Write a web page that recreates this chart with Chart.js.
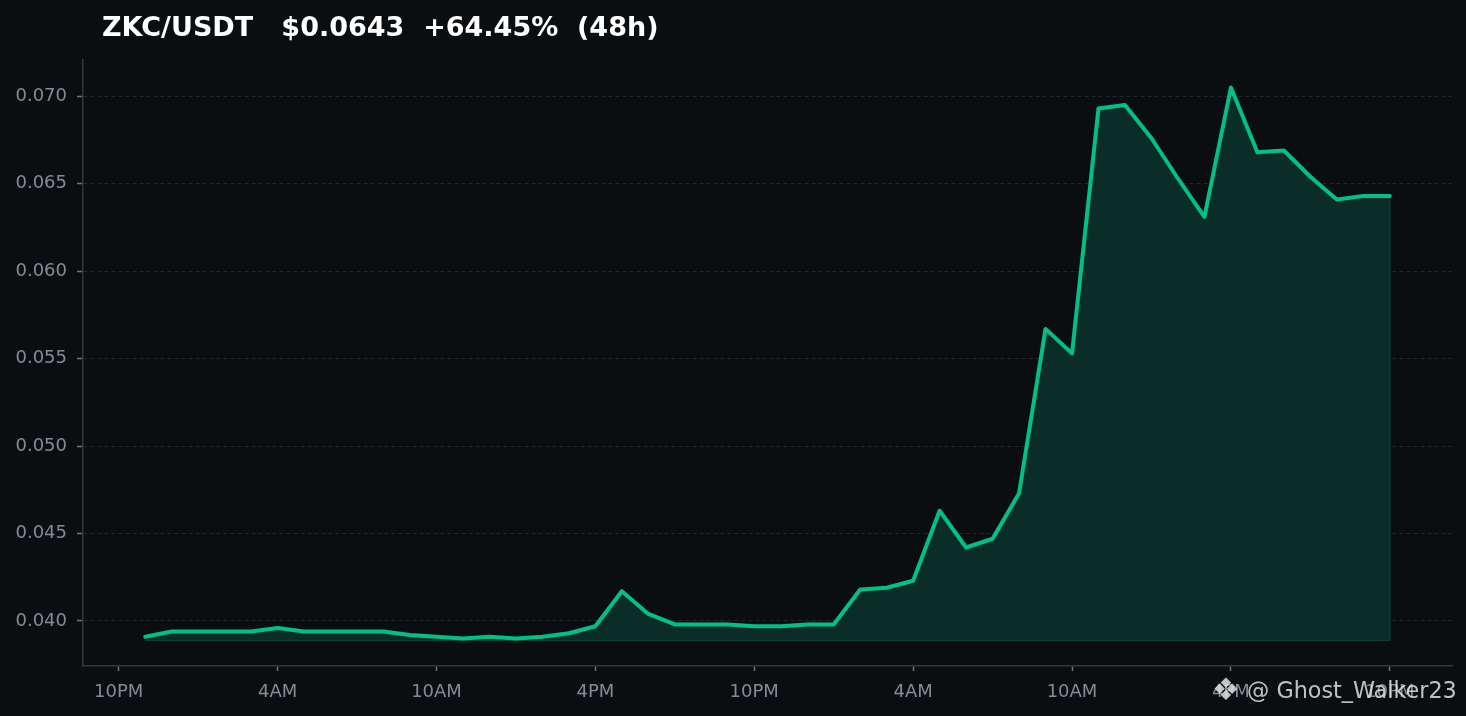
<!DOCTYPE html>
<html>
<head>
<meta charset="utf-8">
<script src="https://cdn.jsdelivr.net/npm/chart.js@4"></script>
<style>
    html, body {
        margin: 0;
        padding: 0;
        background: #0b0e11;
        overflow: hidden;
    }
    #wrap {
        position: relative;
        width: 1466px;
        height: 716px;
    }
    #title {
        position: absolute;
        left: 102px;
        top: 13px;
        font: bold 27px 'DejaVu Sans';
        line-height: 1;
        color: #ffffff;
        white-space: pre;
    }
    #logo {
        position: absolute;
        left: 1212px;
        top: 674px;
        font: 31px 'DejaVu Sans';
        line-height: 1;
        color: rgba(225, 225, 225, 0.85);
    }
    #mark {
        position: absolute;
        left: 1247px;
        top: 679px;
        font: 22.3px 'DejaVu Sans';
        line-height: 1;
        color: rgba(225, 225, 225, 0.85);
        white-space: pre;
    }
</style>
</head>
<body>
<div id="wrap">
    <canvas id="mychart"></canvas>
    <div id="title">ZKC/USDT   $0.0643  +64.45%  (48h)</div>
    <div id="logo">❖</div>
    <div id="mark">@ Ghost_Walker23</div>
</div>
<script>
// hourly closes, 11PM -> 10PM two days later
const times = [
    '11PM', '12AM', '1AM', '2AM', '3AM', '4AM', '5AM', '6AM', '7AM', '8AM', '9AM', '10AM',
    '11AM', '12PM', '1PM', '2PM', '3PM', '4PM', '5PM', '6PM', '7PM', '8PM', '9PM', '10PM',
    '11PM', '12AM', '1AM', '2AM', '3AM', '4AM', '5AM', '6AM', '7AM', '8AM', '9AM', '10AM',
    '11AM', '12PM', '1PM', '2PM', '3PM', '4PM', '5PM', '6PM', '7PM', '8PM', '9PM', '10PM'
]
const prices = [
    0.0391, 0.0394, 0.0394, 0.0394, 0.0394, 0.0396, 0.0394, 0.0394, 0.0394, 0.0394, 0.0392, 0.0391,
    0.0390, 0.0391, 0.0390, 0.0391, 0.0393, 0.0397, 0.0417, 0.0404, 0.0398, 0.0398, 0.0398, 0.0397,
    0.0397, 0.0398, 0.0398, 0.0418, 0.0419, 0.0423, 0.0463, 0.0442, 0.0447, 0.0473, 0.0567, 0.0553,
    0.0693, 0.0695, 0.0676, 0.0653, 0.0631, 0.0705, 0.0668, 0.0669, 0.0654, 0.0641, 0.0643, 0.0643
]
const fillBase = 0.0389

const xTickPos = [-1, 5, 11, 17, 23, 29, 35, 41, 47]
const xTickLabels = ['10PM', '4AM', '10AM', '4PM', '10PM', '4AM', '10AM', '4PM', '10PM']
const yTicks = [0.040, 0.045, 0.050, 0.055, 0.060, 0.065, 0.070]

const xMin = -2.35
const xMax = 49.35
const yMin = 0.037425
const yMax = 0.072075

Chart.defaults.font.family = 'DejaVu Sans'
Chart.defaults.font.size = 18
Chart.defaults.color = '#858b94'

const last = prices.length - 1
const points = prices.map((v, i) => ({ x: i, y: v }))
// outline of the filled area (bottom and right side)
const edge = [
    { x: 0, y: fillBase },
    { x: last, y: fillBase },
    { x: last, y: prices[last] }
]

const ctx = document.getElementById('mychart')

new Chart(ctx, {
    type: 'line',
    data: {
        datasets: [
            {
                label: 'ZKC/USDT',
                data: points,
                borderColor: '#00c087',
                borderWidth: 4,
                borderJoinStyle: 'round',
                borderCapStyle: 'round',
                backgroundColor: '#0a2e27',
                fill: { value: fillBase },
                pointRadius: 0,
                tension: 0,
                order: 0
            },
            {
                label: 'edge',
                data: edge,
                borderColor: '#0e4838',
                borderWidth: 1.5,
                fill: false,
                pointRadius: 0,
                tension: 0,
                order: 1
            }
        ]
    },
    options: {
        responsive: true,
        maintainAspectRatio: false,
        animation: false,
        events: [],
        layout: {
            padding: { left: 0, right: 14, top: 60, bottom: 0 }
        },
        plugins: {
            legend: { display: false },
            tooltip: { enabled: false }
        },
        scales: {
            x: {
                type: 'linear',
                min: xMin,
                max: xMax,
                border: { color: '#33373d', width: 1.5 },
                grid: {
                    drawOnChartArea: false,
                    drawTicks: true,
                    tickLength: 5,
                    tickColor: '#6e737b',
                    tickWidth: 1.5
                },
                ticks: {
                    padding: 11,
                    maxRotation: 0,
                    autoSkip: false,
                    callback: function (value) {
                        const k = xTickPos.indexOf(value)
                        return k >= 0 ? xTickLabels[k] : ''
                    }
                },
                afterBuildTicks: function (scale) {
                    scale.ticks = xTickPos.map(v => ({ value: v }))
                },
                afterFit: function (scale) {
                    scale.height = 50
                    scale.paddingLeft = 0
                    scale.paddingRight = 0
                }
            },
            y: {
                min: yMin,
                max: yMax,
                // in v4 border.dash is what dashes the grid lines
                border: { color: '#33373d', width: 1.5, dash: [4, 3] },
                grid: {
                    color: '#23272d',
                    lineWidth: 1,
                    drawTicks: true,
                    tickLength: 6,
                    tickColor: '#6e737b',
                    tickWidth: 1.5,
                    tickBorderDash: []
                },
                ticks: {
                    padding: 10,
                    callback: function (value) {
                        return value.toFixed(3)
                    }
                },
                afterBuildTicks: function (scale) {
                    scale.ticks = yTicks.map(v => ({ value: v }))
                },
                afterFit: function (scale) {
                    scale.width = 83
                    scale.paddingTop = 0
                    scale.paddingBottom = 0
                }
            }
        }
    }
})
</script>
</body>
</html>
